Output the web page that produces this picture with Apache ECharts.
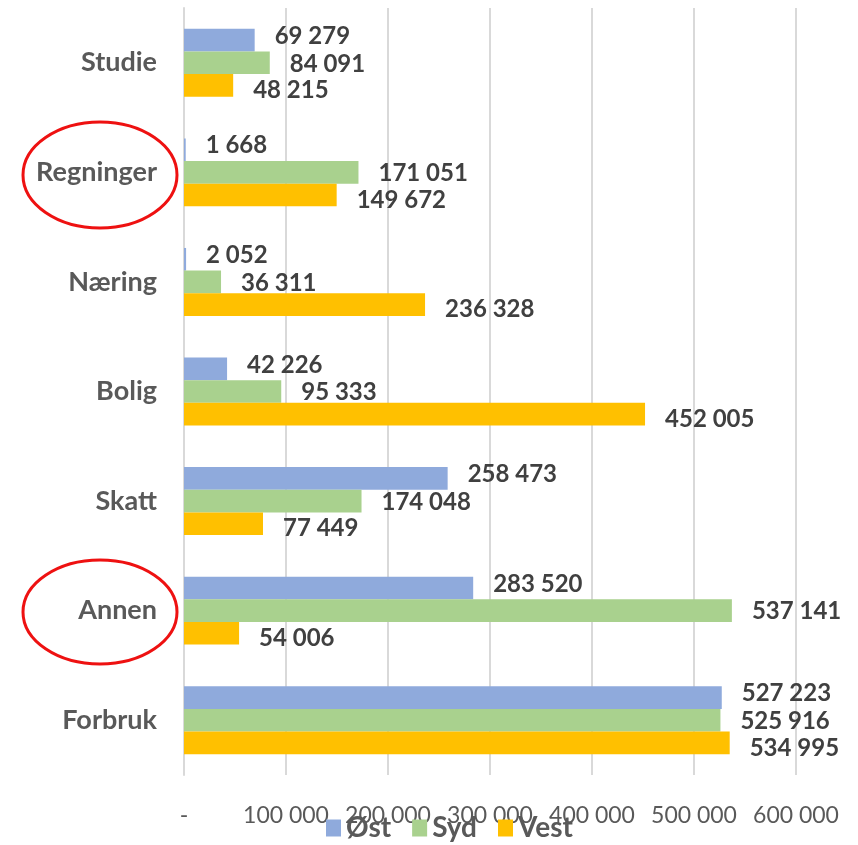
<!DOCTYPE html>
<html>
<head>
<meta charset="utf-8">
<script src="https://cdn.jsdelivr.net/npm/echarts@6/dist/echarts.min.js"></script>
<style>
html, body { margin: 0; padding: 0; background: #fff; }
#main { width: 858px; height: 845px; }
</style>
</head>
<body>
<div id="main"></div>
<script>
// kategorier, ovenfra og ned
var categories = ['Studie', 'Regninger', 'Næring', 'Bolig', 'Skatt', 'Annen', 'Forbruk'];
var seriesNames = ['Øst', 'Syd', 'Vest'];
var ostValues = [69279, 1668, 2052, 42226, 258473, 283520, 527223];
var sydValues = [84091, 171051, 36311, 95333, 174048, 537141, 525916];
var vestValues = [48215, 149672, 236328, 452005, 77449, 54006, 534995];
var colors = ['#8faadc', '#a9d18e', '#ffc000'];

var font = 'Lato, "Open Sans", sans-serif';

function fmt(v) {
    if (v === 0) return '-';
    return String(v).replace(/\B(?=(\d{3})+(?!\d))/g, ' ');
}

// labels spres litt ut vertikalt som i Excel
function makeSeries(name, data, color, dy) {
    return {
        name: name,
        type: 'bar',
        data: data,
        barGap: '0%',
        barCategoryGap: '38%',
        itemStyle: { color: color },
        label: {
            show: true,
            position: 'right',
            distance: 20,
            offset: [0, dy],
            fontFamily: font,
            fontWeight: 'bold',
            fontSize: 24,
            color: '#404040',
            formatter: function (p) { return fmt(p.value); }
        }
    };
}

var myChart = echarts.init(document.getElementById('main'));

var option = {
    animation: false,
    color: colors,
    grid: { left: 184, right: 62, top: 8, bottom: 70 },
    legend: {
        data: seriesNames,
        bottom: -2,
        left: 321,
        itemWidth: 15,
        itemHeight: 17,
        itemGap: 21,
        icon: 'rect',
        textStyle: { fontFamily: font, fontWeight: 'bold', fontSize: 28, color: '#595959' }
    },
    xAxis: {
        type: 'value',
        min: 0,
        max: 600000,
        interval: 100000,
        axisLine: { show: false },
        axisTick: { show: false },
        splitLine: { lineStyle: { color: '#d9d9d9', width: 2 } },
        axisLabel: {
            margin: 29,
            fontFamily: font,
            fontSize: 23,
            color: '#595959',
            formatter: fmt
        }
    },
    yAxis: {
        type: 'category',
        inverse: true,
        data: categories,
        axisLine: { lineStyle: { color: '#d9d9d9', width: 2 } },
        axisTick: { show: false },
        axisLabel: {
            margin: 27,
            fontFamily: font,
            fontWeight: 'bold',
            fontSize: 27,
            color: '#595959'
        }
    },
    series: [
        makeSeries(seriesNames[0], ostValues, colors[0], -4),
        makeSeries(seriesNames[1], sydValues, colors[1], 1),
        makeSeries(seriesNames[2], vestValues, colors[2], 5)
    ],
    graphic: [
        {
            type: 'ellipse',
            shape: { cx: 100, cy: 175, rx: 77, ry: 53 },
            style: { fill: 'none', stroke: '#ee1111', lineWidth: 3 },
            z: 100
        },
        {
            type: 'ellipse',
            shape: { cx: 100, cy: 612, rx: 77, ry: 52 },
            style: { fill: 'none', stroke: '#ee1111', lineWidth: 3 },
            z: 100
        }
    ]
};

myChart.setOption(option);
</script>
</body>
</html>
